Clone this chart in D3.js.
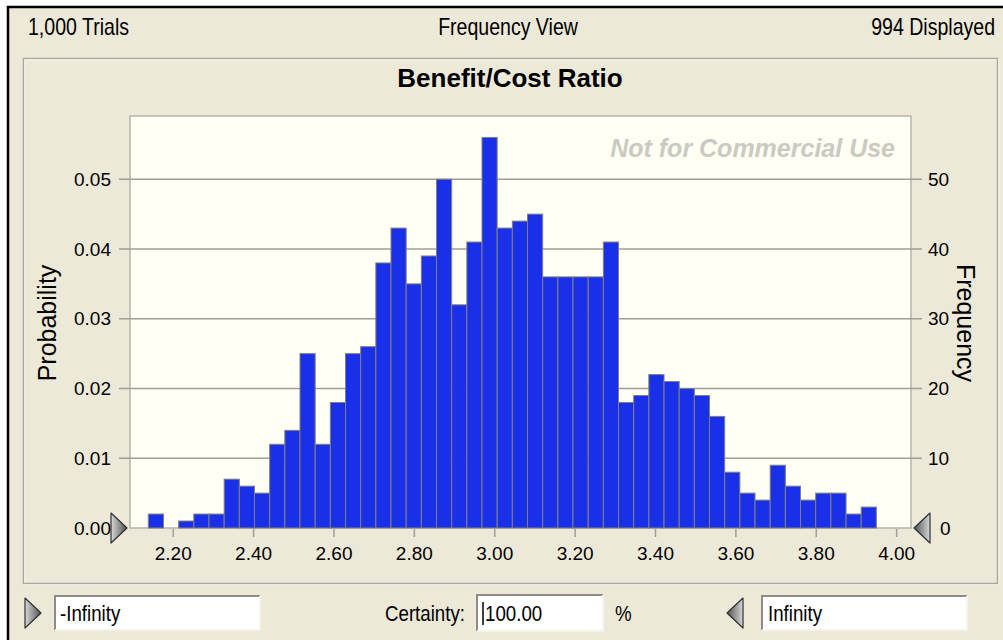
<!DOCTYPE html>
<html>
<head>
<meta charset="utf-8">
<script src="https://cdn.jsdelivr.net/npm/d3@7"></script>
<style>
  html, body { margin: 0; padding: 0; background: #fff; }
  svg { display: block; }
  text { font-family: "Liberation Sans", Arial, sans-serif; }
</style>
</head>
<body>
<div id="chart"></div>
<script>
// histogram counts, one per bin (1,000 trials, 994 shown)
var frequency = [2, 0, 1, 2, 2, 7, 6, 5, 12, 14,
                 25, 12, 18, 25, 26, 38, 43, 35, 39, 50,
                 32, 41, 56, 43, 44, 45, 36, 36, 36, 36,
                 41, 18, 19, 22, 21, 20, 19, 16, 8, 5,
                 4, 9, 6, 4, 5, 5, 2, 3];
var binStart = 2.1393,
    binWidth = 0.03774,
    trials = 1000;
var xTicks = [2.2, 2.4, 2.6, 2.8, 3.0, 3.2, 3.4, 3.6, 3.8, 4.0];
var freqTicks = [0, 10, 20, 30, 40, 50];
var probTicks = [0, 0.01, 0.02, 0.03, 0.04, 0.05];
var xDomain = [2.0937, 4.037],
    freqDomain = [0, 59.07];

var W = 1003, H = 640,
    plot = { left: 130, right: 911, top: 116, bottom: 528 },
    bg = "#ece9d8";

var svg = d3.select("#chart").append("svg").attr("width", W).attr("height", H);

// dialog text is a narrow system font, so squeeze Liberation Sans a bit
function uiText(x0, y0, size, anchor, str) {
    return svg.append("text")
        .attr("transform", "translate(" + x0 + "," + y0 + ") scale(0.85,1)")
        .attr("text-anchor", anchor || "start")
        .style("font-size", size + "px")
        .text(str);
}

// window frame
svg.append("rect").attr("x", 7).attr("y", 6).attr("width", W - 7).attr("height", H - 6).attr("fill", bg);
svg.append("path").attr("d", "M8,640 V7 H1003").attr("fill", "none").attr("stroke", "#000").attr("stroke-width", 2.5);

// header
uiText(28, 35, 23, "start", "1,000 Trials");
uiText(508, 35, 23, "middle", "Frequency View");
uiText(995, 35, 23, "end", "994 Displayed");

// etched panel
svg.append("rect").attr("x", 24.5).attr("y", 59.5).attr("width", 974).attr("height", 525).attr("fill", "none").attr("stroke", "#fff").attr("stroke-width", 1.5);
svg.append("rect").attr("x", 23.5).attr("y", 58.5).attr("width", 974).attr("height", 525).attr("fill", "none").attr("stroke", "#aca899").attr("stroke-width", 1.5);

svg.append("text").attr("x", 510).attr("y", 87).attr("text-anchor", "middle")
    .style("font-weight", "bold").style("font-size", "26px")
    .text("Benefit/Cost Ratio");

var x = d3.scaleLinear().domain(xDomain).range([plot.left, plot.right]),
    yF = d3.scaleLinear().domain(freqDomain).range([plot.bottom, plot.top]),
    yP = d3.scaleLinear().domain(freqDomain.map(function (d) { return d / trials; })).range([plot.bottom, plot.top]);

svg.append("rect").attr("x", plot.left).attr("y", plot.top)
    .attr("width", plot.right - plot.left).attr("height", plot.bottom - plot.top)
    .attr("fill", "#fffff4").attr("stroke", "#b5b3a8").attr("stroke-width", 1.5);

// gridlines, running out past the frame as ticks on both sides
svg.append("g").selectAll("line").data(freqTicks.slice(1)).enter().append("line")
    .attr("x1", plot.left - 11).attr("x2", plot.right + 11)
    .attr("y1", function (d) { return yF(d); }).attr("y2", function (d) { return yF(d); })
    .attr("stroke", "#a09e96").attr("stroke-width", 1.5);

svg.append("text").attr("x", 895).attr("y", 157).attr("text-anchor", "end")
    .style("font-weight", "bold").style("font-style", "italic")
    .style("font-size", "25px").attr("fill", "#cacac2").text("Not for Commercial Use");

// bars
var bars = svg.append("g");
frequency.forEach(function (d, i) {
    if (!d) return;
    var x0 = x(binStart + i * binWidth), x1 = x(binStart + (i + 1) * binWidth);
    bars.append("rect")
        .attr("x", x0).attr("y", yF(d))
        .attr("width", x1 - x0).attr("height", yF(0) - yF(d))
        .attr("fill", "#1a30e8").attr("stroke", "#7f7f80").attr("stroke-width", 1);
});

// axes
var xAxis = svg.append("g").attr("transform", "translate(0," + (plot.bottom + 1) + ")")
    .call(d3.axisBottom(x).tickValues(xTicks).tickFormat(d3.format(".2f")).tickSize(8).tickPadding(10));
var left = svg.append("g").attr("transform", "translate(" + (plot.left - 11) + ",0)")
    .call(d3.axisLeft(yP).tickValues(probTicks).tickFormat(d3.format(".2f")).tickSize(0).tickPadding(8));
var right = svg.append("g").attr("transform", "translate(" + (plot.right + 11) + ",0)")
    .call(d3.axisRight(yF).tickValues(freqTicks).tickSize(0).tickPadding(6));

[xAxis, left, right].forEach(function (g) {
    g.select(".domain").remove();
    g.selectAll(".tick line").attr("stroke", "#a09e96").attr("stroke-width", 1.5);
    g.selectAll(".tick text").attr("fill", "#000").style("font-family", "'Liberation Sans', Arial, sans-serif").style("font-size", "19px");
});
right.selectAll(".tick").filter(function (d) { return d === 0; }).select("text").attr("x", 18);

// axis titles
svg.append("text").attr("transform", "translate(56,323) rotate(-90)").attr("text-anchor", "middle")
    .style("font-size", "25px").text("Probability");
svg.append("text").attr("transform", "translate(957,323) rotate(90)").attr("text-anchor", "middle")
    .style("font-size", "25px").text("Frequency");

// grab-handle triangles
var defs = svg.append("defs");
var grad = defs.append("linearGradient").attr("id", "tri").attr("x1", 0).attr("y1", 0).attr("x2", 1).attr("y2", 0);
grad.append("stop").attr("offset", 0).attr("stop-color", "#d8d8d8");
grad.append("stop").attr("offset", 1).attr("stop-color", "#505050");
var gradL = defs.append("linearGradient").attr("id", "triL").attr("x1", 1).attr("y1", 0).attr("x2", 0).attr("y2", 0);
gradL.append("stop").attr("offset", 0).attr("stop-color", "#d8d8d8");
gradL.append("stop").attr("offset", 1).attr("stop-color", "#505050");

function triangle(cx, cy, dir) {
    var w = 16, h = 30;
    var d = dir > 0
        ? "M" + (cx - w / 2) + "," + (cy - h / 2) + " L" + (cx + w / 2) + "," + cy + " L" + (cx - w / 2) + "," + (cy + h / 2) + " Z"
        : "M" + (cx + w / 2) + "," + (cy - h / 2) + " L" + (cx - w / 2) + "," + cy + " L" + (cx + w / 2) + "," + (cy + h / 2) + " Z";
    svg.append("path").attr("d", d).attr("fill", dir > 0 ? "url(#tri)" : "url(#triL)")
        .attr("stroke", "#303030").attr("stroke-width", 1.2).attr("stroke-linejoin", "round");
}
triangle(119, plot.bottom, 1);
triangle(922, plot.bottom, -1);
triangle(33, 613, 1);
triangle(735, 613, -1);

// input boxes
function box(x0, y0, w, h) {
    svg.append("rect").attr("x", x0).attr("y", y0).attr("width", w).attr("height", h).attr("fill", "#fff");
    svg.append("path").attr("d", "M" + x0 + "," + (y0 + h) + " V" + y0 + " H" + (x0 + w))
        .attr("fill", "none").attr("stroke", "#8e8c84").attr("stroke-width", 2);
    svg.append("path").attr("d", "M" + (x0 + w) + "," + y0 + " V" + (y0 + h) + " H" + x0)
        .attr("fill", "none").attr("stroke", "#f4f3ee").attr("stroke-width", 2);
}
box(55, 596, 205, 34);
box(477, 595, 126, 36);
box(762, 596, 205, 34);

uiText(60, 621, 22, "start", "-Infinity");
uiText(385, 621, 22, "start", "Certainty:");
uiText(485, 621, 22, "start", "100.00");
svg.append("line").attr("x1", 483).attr("x2", 483).attr("y1", 602).attr("y2", 625).attr("stroke", "#000").attr("stroke-width", 1.5);
uiText(615, 621, 22, "start", "%");
uiText(768, 621, 22, "start", "Infinity");
</script>
</body>
</html>
